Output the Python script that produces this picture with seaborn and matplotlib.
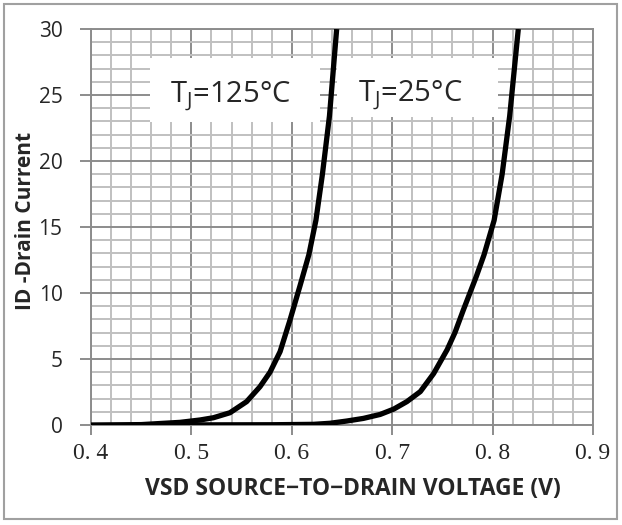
import numpy as np
import pandas as pd
import matplotlib
matplotlib.use("Agg")
import matplotlib.pyplot as plt
from matplotlib.patches import Rectangle
from matplotlib.ticker import MultipleLocator, FixedLocator
import seaborn as sns

# ---- data ----
v_125 = [0.40, 0.45, 0.4886, 0.5086, 0.5219, 0.5384, 0.555, 0.5683, 0.5783,
         0.5883, 0.598, 0.608, 0.617, 0.624, 0.6305, 0.6375, 0.6447]
i_125 = [0.0, 0.03, 0.20, 0.38, 0.55, 0.93, 1.77, 2.9, 4.0,
         5.55, 7.9, 10.5, 12.9, 15.5, 19.0, 23.4, 30.0]

v_25 = [0.45, 0.58, 0.6215, 0.638, 0.6547, 0.6713, 0.688, 0.7014, 0.7146,
        0.728, 0.7413, 0.7547, 0.7625, 0.7708, 0.784, 0.7915, 0.8015,
        0.8095, 0.8170, 0.8256]
i_25 = [0.0, 0.02, 0.05, 0.13, 0.30, 0.50, 0.80, 1.2, 1.77,
        2.53, 3.9, 5.7, 7.0, 8.7, 11.3, 12.9, 15.5,
        19.0, 23.4, 30.0]

xticks = [0.4, 0.5, 0.6, 0.7, 0.8, 0.9]
xtick_labels = ["0. 4", "0. 5", "0. 6", "0. 7", "0. 8", "0. 9"]
yticks = [0, 5, 10, 15, 20, 25, 30]
ytick_labels = ["0", "5", "10", "15", "20", "25", "30"]
label_125 = r"$\mathregular{T_J}$=125°C"
label_25 = r"$\mathregular{T_J}$=25°C"
xlabel = "VSD SOURCE\u2212TO\u2212DRAIN VOLTAGE (V)"
ylabel = "ID -Drain Current"

df = pd.concat([
    pd.DataFrame({"V": v_125, "I": i_125, "T": "125"}),
    pd.DataFrame({"V": v_25, "I": i_25, "T": "25"}),
])

sns.set_style("white")
plt.rcParams["font.family"] = ["Open Sans", "DejaVu Sans"]
plt.rcParams["mathtext.fontset"] = "custom"
plt.rcParams["mathtext.rm"] = "Open Sans"

fig = plt.figure(figsize=(6.22, 5.25), dpi=100)
ax = fig.add_axes([91 / 622, 1 - 425 / 525, 502 / 622, 396 / 525])

major_c = "#8c8c8c"
minor_c = "#c0c0c0"

ax.set_xlim(0.4, 0.9)
ax.set_ylim(0, 30)
ax.xaxis.set_major_locator(FixedLocator(xticks))
ax.yaxis.set_major_locator(FixedLocator(yticks))
ax.xaxis.set_minor_locator(MultipleLocator(0.02))
ax.yaxis.set_minor_locator(MultipleLocator(1))
ax.set_axisbelow(True)
ax.grid(which="minor", color=minor_c, lw=1.4)
ax.grid(which="major", color=major_c, lw=1.4)

# white label boxes (behind curves)
ax.add_patch(Rectangle((0.1175, 0.765), 0.456 - 0.1175, 0.9268 - 0.765,
                       transform=ax.transAxes, facecolor="white",
                       edgecolor="none", zorder=1))
ax.add_patch(Rectangle((0.490, 0.7778), 0.8108 - 0.490, 0.9268 - 0.7778,
                       transform=ax.transAxes, facecolor="white",
                       edgecolor="none", zorder=1))

sns.lineplot(data=df, x="V", y="I", units="T", estimator=None, sort=False,
             color="black", lw=3.8, ax=ax, legend=False, zorder=3)
for ln in ax.lines:
    ln.set_solid_joinstyle("round")
    ln.set_solid_capstyle("butt")

ax.set_xticklabels(xtick_labels, family="Liberation Serif", fontsize=17)
ax.set_yticklabels(ytick_labels, fontsize=15)
ax.tick_params(axis="x", which="major", direction="out", length=7,
               width=1.4, color=major_c, pad=6, bottom=True)
ax.tick_params(axis="y", which="major", direction="out", length=8,
               width=1.4, color=major_c, pad=12.5, left=True)
ax.tick_params(which="minor", length=0)

for s in ax.spines.values():
    s.set_color(major_c)
    s.set_linewidth(1.4)

ax.set_xlabel(xlabel, fontsize=16.5, fontweight="bold", va="baseline")
ax.xaxis.set_label_coords(0.522, (425 - 495) / 396)
ax.set_ylabel(ylabel, fontsize=15, fontweight="bold", va="center")
ax.yaxis.set_label_coords(-0.13, 0.515)

ax.text(0.1574, 0.813, label_125, transform=ax.transAxes, fontsize=21,
        ha="left", va="baseline", zorder=4)
ax.text(0.5319, 0.8157, label_25, transform=ax.transAxes, fontsize=21,
        ha="left", va="baseline", zorder=4)

# outer frame
fig.patches.append(Rectangle((4 / 622, 1 - 519 / 525), 613 / 622, 515 / 525,
                             transform=fig.transFigure, fill=False,
                             edgecolor="#a0a0a0", lw=1.5))

fig.savefig("out.png", dpi=100)
